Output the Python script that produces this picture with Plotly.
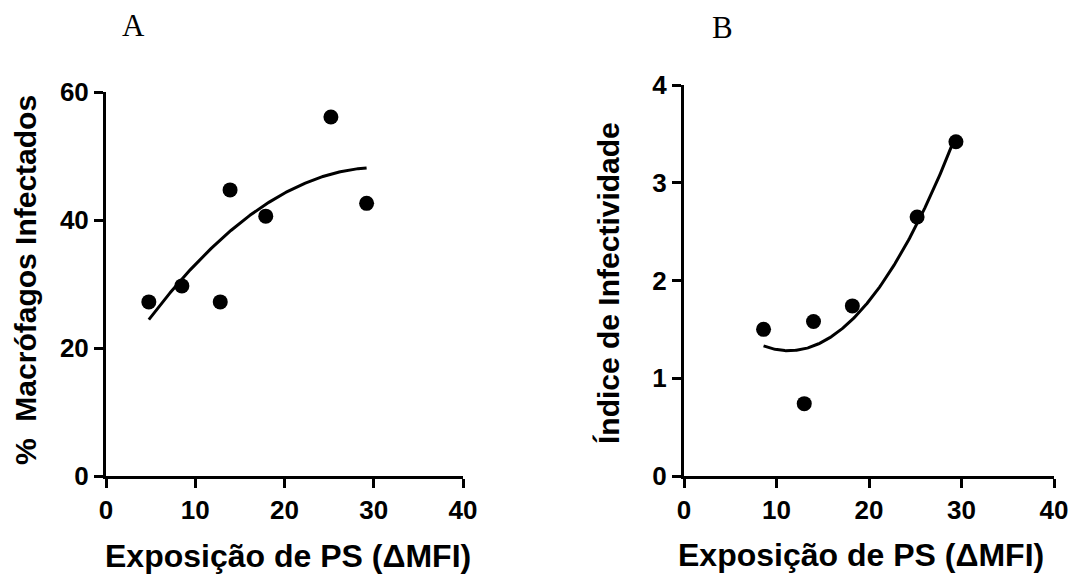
import numpy as np
import plotly.graph_objects as go

# Panel A data
ps_a = [4.8, 8.5, 12.8, 13.9, 17.9, 25.2, 29.2]
infect_pct = [27.2, 29.7, 27.2, 44.7, 40.6, 56.1, 42.6]
# Panel B data
ps_b = [8.6, 13.0, 14.0, 18.2, 25.2, 29.4]
infect_idx = [1.50, 0.74, 1.58, 1.74, 2.65, 3.42]

x_ticks = [0, 10, 20, 30, 40]
ya_ticks = [0, 20, 40, 60]
yb_ticks = [0, 1, 2, 3, 4]

W, H = 1072, 582
def px(x):
    return x / W
def py(y):
    return 1 - y / H

def fit_curve(x, y):
    c = np.polyfit(x, y, 2)
    xs = np.linspace(min(x), max(x), 200)
    return xs, np.polyval(c, xs)

fa_x, fa_y = fit_curve(ps_a, infect_pct)
fb_x, fb_y = fit_curve(ps_b, infect_idx)

fig = go.Figure()
mk = dict(color="black", size=15)
ln = dict(color="black", width=3)
fig.add_trace(go.Scatter(x=fa_x, y=fa_y, mode="lines", line=ln, xaxis="x", yaxis="y"))
fig.add_trace(go.Scatter(x=ps_a, y=infect_pct, mode="markers", marker=mk, xaxis="x", yaxis="y"))
fig.add_trace(go.Scatter(x=fb_x, y=fb_y, mode="lines", line=ln, xaxis="x2", yaxis="y2"))
fig.add_trace(go.Scatter(x=ps_b, y=infect_idx, mode="markers", marker=mk, xaxis="x2", yaxis="y2"))

tickfont = dict(family="Liberation Sans", size=26, color="black", weight="bold")
axcommon = dict(showline=True, linecolor="black", linewidth=3, ticks="outside",
                ticklen=9, tickwidth=3, tickcolor="black", showgrid=False,
                zeroline=False, tickfont=tickfont, fixedrange=True,
                ticklabeloverflow="allow")

fig.update_layout(
    width=W, height=H,
    margin=dict(l=0, r=0, t=0, b=0, autoexpand=False),
    paper_bgcolor="white", plot_bgcolor="white",
    showlegend=False,
    xaxis=dict(domain=[px(106), px(463)], range=[0, 40], tickvals=x_ticks, anchor="y", **axcommon),
    yaxis=dict(domain=[py(476), py(92)], range=[0, 60], tickvals=ya_ticks, anchor="x", **axcommon),
    xaxis2=dict(domain=[px(684), px(1054)], range=[0, 40], tickvals=x_ticks, anchor="y2", **axcommon),
    yaxis2=dict(domain=[py(476), py(85)], range=[0, 4], tickvals=yb_ticks, anchor="x2", **axcommon),
)

ytitlefont = dict(family="Liberation Sans", size=30, color="black", weight="bold")
xtitlefont = dict(family="Liberation Sans", size=32, color="black", weight="bold")
letterfont = dict(family="Liberation Serif", size=31, color="black")
ann = [
    dict(text="A", x=px(133), y=py(26), font=letterfont),
    dict(text="B", x=px(722), y=py(27), font=letterfont),
    dict(text="%  Macrófagos Infectados", x=px(25), y=py(280), font=ytitlefont, textangle=-90),
    dict(text="Índice de Infectividade", x=px(608), y=py(283), font=ytitlefont, textangle=-90),
    dict(text="Exposição de PS (ΔMFI)", x=px(288), y=py(556), font=xtitlefont),
    dict(text="Exposição de PS (ΔMFI)", x=px(861), y=py(555), font=xtitlefont),
]
for a in ann:
    fig.add_annotation(xref="paper", yref="paper", xanchor="center", yanchor="middle",
                       showarrow=False, **a)

fig.write_html("out.html",
               config={"displayModeBar": False, "staticPlot": True},
               post_script="document.body.style.margin='0';document.body.style.overflow='hidden';")
